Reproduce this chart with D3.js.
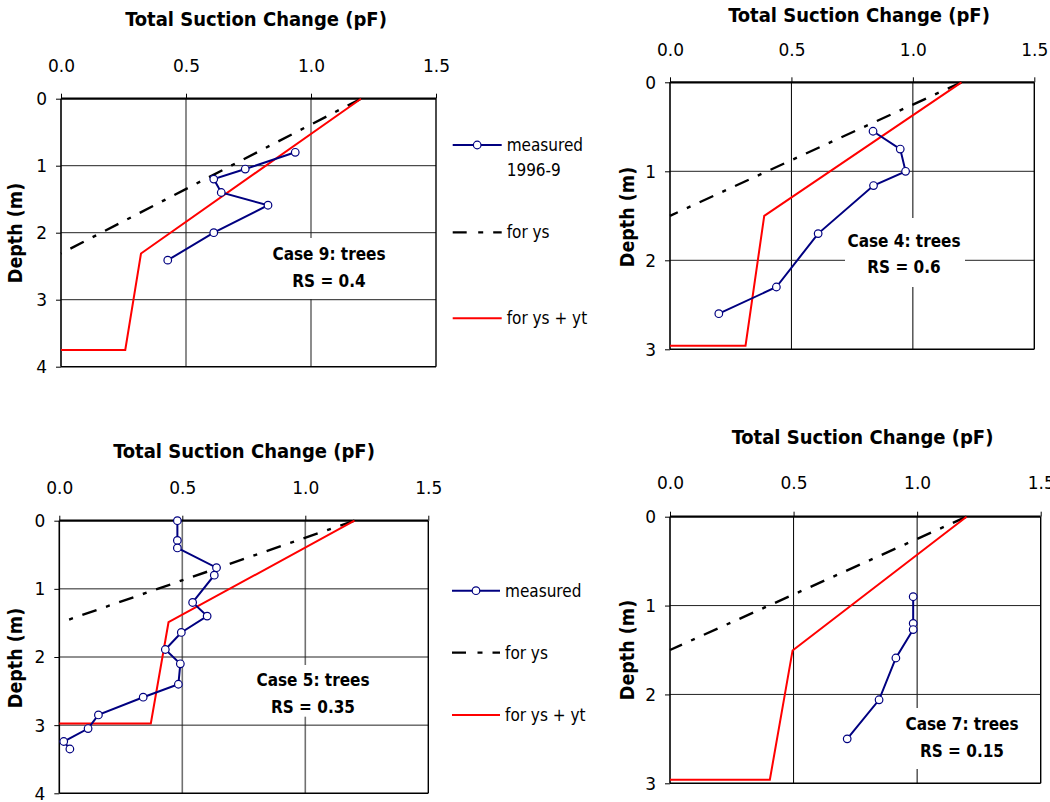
<!DOCTYPE html>
<html><head><meta charset="utf-8">
<script src="https://cdn.jsdelivr.net/npm/d3@7"></script>
<style>
body{margin:0;background:#fff;}
svg{display:block;}
text{font-family:"DejaVu Sans Condensed","DejaVu Sans",sans-serif;fill:#000;}
</style>
</head><body>
<svg id="c" width="1050" height="802"></svg>
<script>
// ---------- shared text / ticks ----------
const titleText = "Total Suction Change (pF)";
const yLabelText = "Depth (m)";
const xTickValues = [0, 0.5, 1.0, 1.5];
const xTickLabels = ["0.0", "0.5", "1.0", "1.5"];
const seriesNames = ["measured", "for ys", "for ys + yt"];

// ---------- Case 9 (top left) ----------
const case9MeasuredPF    = [0.937, 0.737, 0.611, 0.641, 0.828, 0.611, 0.427];
const case9MeasuredDepth = [0.80, 1.05, 1.20, 1.40, 1.59, 2.00, 2.41];
const case9YsPF    = [1.2, 0];
const case9YsDepth = [0, 2.31];
const case9YsYtPF    = [1.2, 0.32, 0.257, 0];
const case9YsYtDepth = [0, 2.31, 3.75, 3.75];

// ---------- Case 4 (top right) ----------
const case4MeasuredPF    = [0.836, 0.948, 0.970, 0.838, 0.610, 0.438, 0.201];
const case4MeasuredDepth = [0.55, 0.75, 1.00, 1.16, 1.70, 2.30, 2.60];
const case4YsPF    = [1.2, 0];
const case4YsDepth = [0, 1.5];
const case4YsYtPF    = [1.2, 0.388, 0.311, 0];
const case4YsYtDepth = [0, 1.50, 2.96, 2.96];

// ---------- Case 5 (bottom left) ----------
const case5MeasuredPF    = [0.480, 0.480, 0.480, 0.639, 0.630, 0.542, 0.601, 0.496,
                            0.431, 0.492, 0.484, 0.341, 0.159, 0.117, 0.018, 0.043];
const case5MeasuredDepth = [0.00, 0.29, 0.40, 0.69, 0.80, 1.20, 1.40, 1.64,
                            1.89, 2.10, 2.40, 2.59, 2.85, 3.05, 3.24, 3.35];
const case5YsPF    = [1.2, 0];
const case5YsDepth = [0, 1.5];
const case5YsYtPF    = [1.2, 0.444, 0.372, 0];
const case5YsYtDepth = [0, 1.49, 2.976, 2.976];

// ---------- Case 7 (bottom right) ----------
const case7MeasuredPF    = [0.984, 0.984, 0.984, 0.914, 0.846, 0.717];
const case7MeasuredDepth = [0.90, 1.20, 1.27, 1.59, 2.06, 2.50];
const case7YsPF    = [1.2, 0];
const case7YsDepth = [0, 1.5];
const case7YsYtPF    = [1.2, 0.496, 0.404, 0];
const case7YsYtDepth = [0, 1.505, 2.96, 2.96];

// ---------- panels (layout) ----------
const panels = [
  { m:[case9MeasuredPF, case9MeasuredDepth], ys:[case9YsPF, case9YsDepth], yst:[case9YsYtPF, case9YsYtDepth],
    depthMax:4, L:61, R:436, T:98.7, B:366.7, title:[256,19], tickY:66, ylab:[15,233],
    note:["Case 9: trees","RS = 0.4"], noteX:329, noteY:[254,281], box:[268,392,238,299],
    vGrid:"#707070", vGridW:1.6,
    legend:{x1:452.7,x2:501.7,tx:506.7, y:[145,232.3,318.3], extra:"1996-9", extraY:170} },
  { m:[case4MeasuredPF, case4MeasuredDepth], ys:[case4YsPF, case4YsDepth], yst:[case4YsYtPF, case4YsYtDepth],
    depthMax:3, L:670, R:1034.3, T:82.3, B:349.3, title:[859,15], tickY:50.5, ylab:[627,217],
    note:["Case 4: trees","RS = 0.6"], noteX:904, noteY:[240.7,266.7], box:[845,965,218,287],
    vGrid:"#000", vGridW:1 },
  { m:[case5MeasuredPF, case5MeasuredDepth], ys:[case5YsPF, case5YsDepth], yst:[case5YsYtPF, case5YsYtDepth],
    depthMax:4, L:59.3, R:428.3, T:520.7, B:793.3, title:[244,450.7], tickY:488.5, ylab:[15,658],
    note:["Case 5: trees","RS = 0.35"], noteX:313, noteY:[680,706.7], box:[253,374,665,716.7],
    vGrid:"#707070", vGridW:1.6,
    legend:{x1:452,x2:500,tx:505, y:[590.7,652.7,715]} },
  { m:[case7MeasuredPF, case7MeasuredDepth], ys:[case7YsPF, case7YsDepth], yst:[case7YsYtPF, case7YsYtDepth],
    depthMax:3, L:670, R:1040.7, T:516.7, B:783.3, title:[862.5,436.7], tickY:483.5, ylab:[627,650],
    note:["Case 7: trees","RS = 0.15"], noteX:962, noteY:[724,750.7], box:[901,1023,708,769],
    vGrid:"#000", vGridW:1 }
];

const navy = "#000080", red = "#ff0000";
const dashYs = "15,10,4,10";
const tickFont = "'DejaVu Sans',sans-serif";
const svg = d3.select("#c");

panels.forEach(p => {
  const x = d3.scaleLinear().domain([0, 1.5]).range([p.L, p.R]);
  const y = d3.scaleLinear().domain([0, p.depthMax]).range([p.T, p.B]);
  const g = svg.append("g");

  // gridlines
  g.selectAll(".vg").data([0.5, 1.0]).join("line")
    .attr("x1", d => x(d)).attr("x2", d => x(d)).attr("y1", p.T).attr("y2", p.B)
    .attr("stroke", p.vGrid).attr("stroke-width", p.vGridW);
  g.selectAll(".hg").data(d3.range(1, p.depthMax)).join("line")
    .attr("x1", p.L).attr("x2", p.R).attr("y1", d => y(d)).attr("y2", d => y(d))
    .attr("stroke", "#222").attr("stroke-width", 1);

  // annotation white box
  g.append("rect").attr("x", p.box[0]).attr("y", p.box[2])
    .attr("width", p.box[1]-p.box[0]).attr("height", p.box[3]-p.box[2]).attr("fill", "#fff");

  // axes
  const ax = g.append("g").attr("transform", `translate(0,${p.T})`)
    .call(d3.axisTop(x).tickValues(xTickValues).tickSize(5).tickFormat((d,i) => xTickLabels[i]));
  ax.select(".domain").remove();
  ax.selectAll("line").attr("stroke", "#000").attr("stroke-width", 1);
  ax.selectAll("text").attr("y", p.tickY - p.T).attr("dy", "0.35em")
    .style("font-size", "17px").style("font-family", tickFont);

  const ay = g.append("g").attr("transform", `translate(${p.L},0)`)
    .call(d3.axisLeft(y).tickValues(d3.range(0, p.depthMax + 1)).tickSize(5).tickFormat(d3.format("d")));
  ay.select(".domain").remove();
  ay.selectAll("line").attr("stroke", "#000").attr("stroke-width", 1);
  ay.selectAll("text").attr("x", -14).attr("dy", "0.35em")
    .style("font-size", "17px").style("font-family", tickFont);

  // frame
  g.append("line").attr("x1", p.L).attr("x2", p.L).attr("y1", p.T).attr("y2", p.B).attr("stroke", "#000").attr("stroke-width", 1.6);
  g.append("line").attr("x1", p.R).attr("x2", p.R).attr("y1", p.T).attr("y2", p.B).attr("stroke", "#000").attr("stroke-width", 1.4);
  g.append("line").attr("x1", p.L).attr("x2", p.R).attr("y1", p.B).attr("y2", p.B).attr("stroke", "#000").attr("stroke-width", 1.4);
  g.append("line").attr("x1", p.L).attr("x2", p.R).attr("y1", p.T).attr("y2", p.T).attr("stroke", "#000").attr("stroke-width", 2.2);

  const line = d3.line().x(d => x(d[0])).y(d => y(d[1]));
  const zip = (a, b) => a.map((v, i) => [v, b[i]]);

  // for ys (dash-dot)
  g.append("path").attr("d", line(zip(p.ys[0], p.ys[1]))).attr("fill", "none")
    .attr("stroke", "#000").attr("stroke-width", 2.4).attr("stroke-dasharray", dashYs);
  // for ys + yt (red)
  g.append("path").attr("d", line(zip(p.yst[0], p.yst[1]))).attr("fill", "none")
    .attr("stroke", red).attr("stroke-width", 2);
  // measured
  const mp = zip(p.m[0], p.m[1]);
  g.append("path").attr("d", line(mp)).attr("fill", "none").attr("stroke", navy).attr("stroke-width", 2);
  g.selectAll(".pt").data(mp).join("circle")
    .attr("cx", d => x(d[0])).attr("cy", d => y(d[1])).attr("r", 3.8)
    .attr("fill", "#fff").attr("stroke", navy).attr("stroke-width", 1.2);

  // titles
  g.append("text").attr("x", p.title[0]).attr("y", p.title[1]).attr("dy", "0.35em")
    .attr("text-anchor", "middle").style("font-weight", "bold").style("font-size", "20px").text(titleText);
  g.append("text").attr("transform", `translate(${p.ylab[0]},${p.ylab[1]}) rotate(-90)`).attr("dy", "0.35em")
    .attr("text-anchor", "middle").style("font-weight", "bold").style("font-size", "19.5px").text(yLabelText);

  // annotation
  p.note.forEach((t, i) => {
    g.append("text").attr("x", p.noteX).attr("y", p.noteY[i]).attr("dy", "0.35em")
      .attr("text-anchor", "middle").style("font-weight", "bold").style("font-size", "17px").text(t);
  });

  // legend
  if (p.legend) {
    const lg = p.legend;
    g.append("line").attr("x1", lg.x1).attr("x2", lg.x2).attr("y1", lg.y[0]).attr("y2", lg.y[0])
      .attr("stroke", navy).attr("stroke-width", 2);
    g.append("circle").attr("cx", (lg.x1 + lg.x2) / 2).attr("cy", lg.y[0]).attr("r", 3.8)
      .attr("fill", "#fff").attr("stroke", navy).attr("stroke-width", 1.2);
    g.append("line").attr("x1", lg.x1).attr("x2", lg.x2).attr("y1", lg.y[1]).attr("y2", lg.y[1])
      .attr("stroke", "#000").attr("stroke-width", 2.3).attr("stroke-dasharray", "14,11.5,5,10,8.5");
    g.append("line").attr("x1", lg.x1).attr("x2", lg.x2).attr("y1", lg.y[2]).attr("y2", lg.y[2])
      .attr("stroke", red).attr("stroke-width", 2);
    seriesNames.forEach((n, i) => {
      g.append("text").attr("x", lg.tx).attr("y", lg.y[i]).attr("dy", "0.35em")
        .style("font-size", "17px").text(n);
    });
    if (lg.extra) {
      g.append("text").attr("x", lg.tx).attr("y", lg.extraY).attr("dy", "0.35em")
        .style("font-size", "17px").text(lg.extra);
    }
  }
});
</script>
</body></html>
